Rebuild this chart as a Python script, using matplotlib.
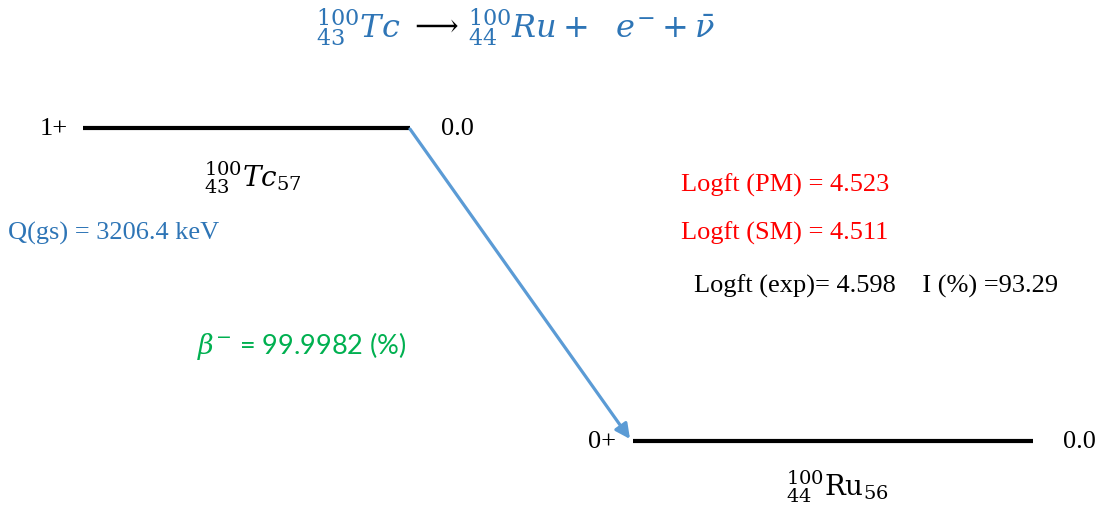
import matplotlib
matplotlib.use('Agg')
import matplotlib.pyplot as plt

# decay data: 100Tc -> 100Ru
level_spins = ['1+', '0+']
level_energies = [0.0, 0.0]       # keV
q_value = 3206.4                  # keV
beta_branch = 99.9982             # %
logft_pm = 4.523
logft_sm = 4.511
logft_exp = 4.598
intensity = 93.29                 # %

plt.rcParams['font.family'] = ['Liberation Serif', 'DejaVu Serif']
plt.rcParams['mathtext.fontset'] = 'dejavuserif'

fig = plt.figure(figsize=(11.05, 5.06), dpi=100)
ax = fig.add_axes([0, 0, 1, 1])
ax.set_xlim(0, 1105)
ax.set_ylim(506, 0)
ax.axis('off')

blue = '#2E75B6'
lvl_fs = 19

# layout of the two levels (pixel frame)
parent_x = (83, 410)
parent_y = 129
daughter_x = (633, 1033)
daughter_y = 442

# title reaction
ax.text(401, 27, r'${}^{100}_{43}Tc$', color=blue, fontsize=23, ha='right', va='center')
ax.text(434, 27, r'$\longrightarrow$', color='black', fontsize=22, ha='center', va='center')
ax.text(468, 27, r'${}^{100}_{44}Ru +\ \ e^{-} + \bar{\nu}$', color=blue, fontsize=23,
        ha='left', va='center')

# parent level
ax.plot(parent_x, [parent_y, parent_y], color='black', lw=3, solid_capstyle='butt')
ax.text(parent_x[0] - 15, parent_y, level_spins[0], fontsize=lvl_fs, ha='right', va='center')
ax.text(parent_x[1] + 31, parent_y, f'{level_energies[0]:.1f}', fontsize=lvl_fs, ha='left', va='center')
ax.text(253, 178, r'${}^{100}_{43}Tc_{57}$', fontsize=20, ha='center', va='center')

# daughter level
ax.plot(daughter_x, [daughter_y, daughter_y], color='black', lw=3, solid_capstyle='butt')
ax.text(daughter_x[0] - 17, daughter_y, level_spins[1], fontsize=lvl_fs, ha='right', va='center')
ax.text(daughter_x[1] + 30, daughter_y, f'{level_energies[1]:.1f}', fontsize=lvl_fs, ha='left', va='center')
ax.text(837, 487, r'${}^{100}_{44}\mathrm{Ru}_{56}$', fontsize=20, ha='center', va='center')

# beta transition
ax.annotate('', xy=(630, 440), xytext=(parent_x[1], parent_y + 1),
            arrowprops=dict(arrowstyle='-|>', color='#5B9BD5', lw=2.3,
                            mutation_scale=22, shrinkA=0, shrinkB=0))

ax.text(8, 233, f'Q(gs) = {q_value} keV', color=blue, fontsize=lvl_fs, ha='left', va='center')
ax.text(302, 346, r'$\beta^{-}$' + f' = {beta_branch} (%)', color='#00B050', fontsize=19.5,
        ha='center', va='center', family=['Lato', 'DejaVu Sans'])

ax.text(681, 185, f'Logft (PM) = {logft_pm}', color='red', fontsize=lvl_fs, ha='left', va='center')
ax.text(681, 233, f'Logft (SM) = {logft_sm}', color='red', fontsize=lvl_fs, ha='left', va='center')
ax.text(694, 286, f'Logft (exp)= {logft_exp}    I (%) ={intensity}', color='black',
        fontsize=lvl_fs, ha='left', va='center')

fig.savefig('out.png', dpi=100)
